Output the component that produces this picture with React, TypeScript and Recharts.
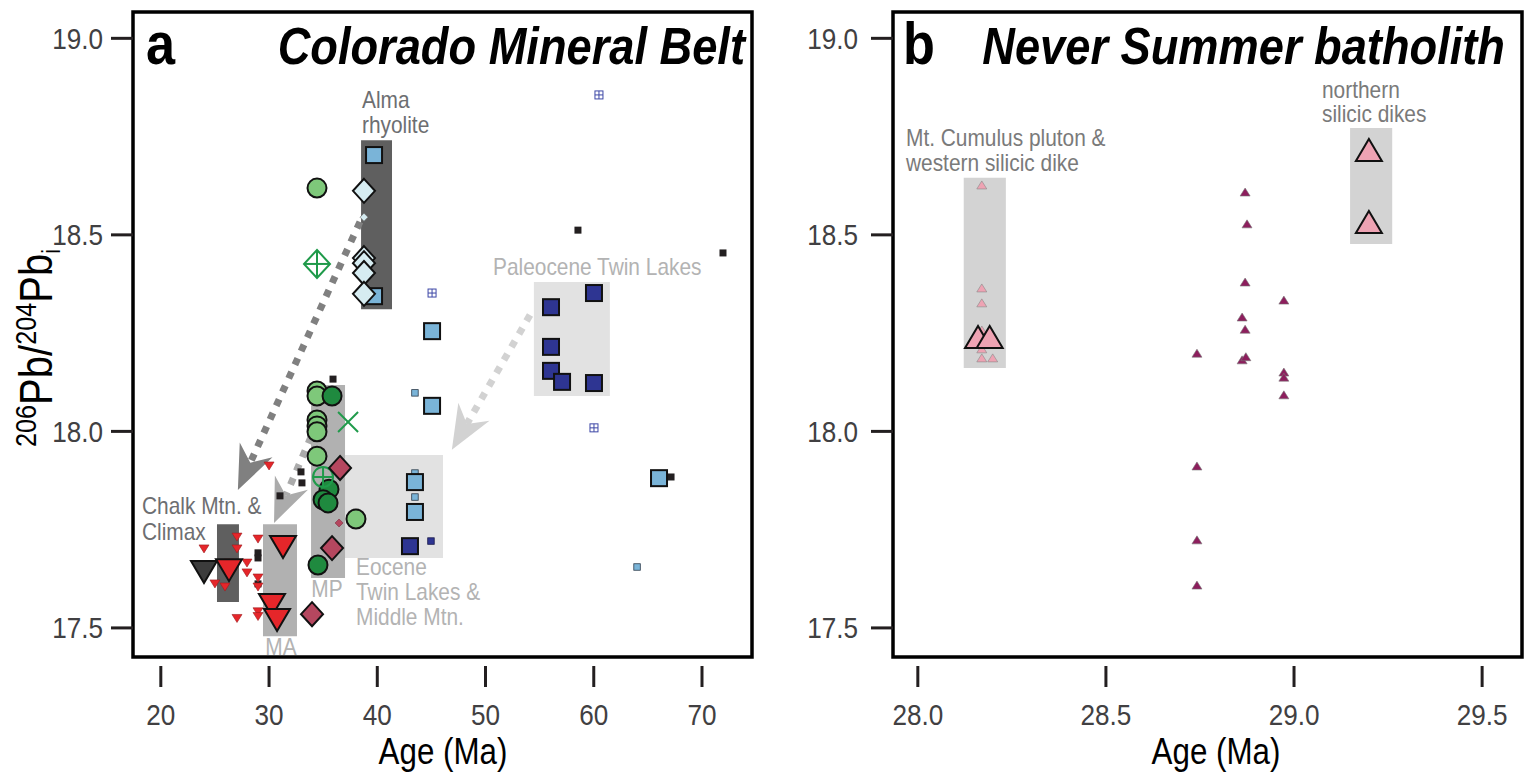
import React from 'react';
import { ScatterChart, Scatter, XAxis, YAxis, ReferenceArea, ReferenceLine } from 'recharts';

type Pt = { x: number; y: number };
const FONT = "'Liberation Sans', Arial, Helvetica, sans-serif";
const SX = 0.87; // condensed look of the original lettering

// ---------------- Panel a: Colorado Mineral Belt (age Ma vs 206Pb/204Pb_i)
const ageTicksA = [20, 30, 40, 50, 60, 70];
const pbTicks = [17.5, 18.0, 18.5, 19.0];
const AX_DOMAIN: [number, number] = [17.43, 74.62];
const PB_DOMAIN: [number, number] = [17.426, 19.067];

const climaxDarkTri: Pt[] = [{ x: 23.99, y: 17.642 }];
const redTriLarge: Pt[] = [
  { x: 26.3, y: 17.647 }, { x: 31.29, y: 17.706 }, { x: 30.27, y: 17.558 }, { x: 30.74, y: 17.52 },
];
const redTriSmall: Pt[] = [
  { x: 23.99, y: 17.701 }, { x: 27.04, y: 17.731 }, { x: 27.04, y: 17.701 }, { x: 28.98, y: 17.726 },
  { x: 26.3, y: 17.665 }, { x: 27.96, y: 17.665 }, { x: 27.96, y: 17.64 }, { x: 28.98, y: 17.627 },
  { x: 25.0, y: 17.612 }, { x: 25.93, y: 17.604 }, { x: 28.98, y: 17.604 }, { x: 28.98, y: 17.541 },
  { x: 28.98, y: 17.529 }, { x: 27.04, y: 17.524 }, { x: 30.0, y: 17.912 },
];
const blackSmallSq: Pt[] = [
  { x: 32.95, y: 17.897 }, { x: 33.04, y: 17.869 }, { x: 31.01, y: 17.836 }, { x: 28.98, y: 17.691 },
  { x: 28.98, y: 17.678 }, { x: 28.98, y: 17.612 }, { x: 35.91, y: 18.133 }, { x: 58.54, y: 18.512 },
  { x: 71.94, y: 18.454 }, { x: 67.14, y: 17.884 },
];
const lightBlueSq: Pt[] = [
  { x: 39.7, y: 18.703 }, { x: 39.7, y: 18.344 }, { x: 45.06, y: 18.255 }, { x: 45.06, y: 18.065 },
  { x: 43.48, y: 17.871 }, { x: 43.48, y: 17.795 }, { x: 66.03, y: 17.881 },
];
const lightBlueSmall: Pt[] = [
  { x: 43.48, y: 18.098 }, { x: 43.48, y: 17.894 }, { x: 43.48, y: 17.833 }, { x: 64.0, y: 17.655 },
];
const darkBlueSq: Pt[] = [
  { x: 56.05, y: 18.316 }, { x: 60.02, y: 18.352 }, { x: 56.05, y: 18.215 }, { x: 56.05, y: 18.154 },
  { x: 57.07, y: 18.126 }, { x: 60.02, y: 18.123 }, { x: 43.02, y: 17.708 },
];
const darkBlueSmall: Pt[] = [{ x: 44.96, y: 17.721 }];
const crossedSq: Pt[] = [{ x: 60.48, y: 18.856 }, { x: 45.06, y: 18.352 }, { x: 60.02, y: 18.009 }];
const almaDiamonds: Pt[] = [
  { x: 38.77, y: 18.612 }, { x: 38.77, y: 18.441 }, { x: 38.77, y: 18.428 }, { x: 38.77, y: 18.403 },
  { x: 38.77, y: 18.35 },
];
const almaDiamondSmall: Pt[] = [{ x: 38.77, y: 18.545 }];
const lightGreenCircles: Pt[] = [
  { x: 34.43, y: 18.619 }, { x: 34.43, y: 18.103 }, { x: 34.43, y: 18.09 }, { x: 34.43, y: 18.029 },
  { x: 34.43, y: 18.014 }, { x: 34.43, y: 17.999 }, { x: 34.43, y: 17.937 }, { x: 38.03, y: 17.777 },
];
const darkGreenCircles: Pt[] = [
  { x: 35.82, y: 18.09 }, { x: 35.54, y: 17.853 }, { x: 34.99, y: 17.826 }, { x: 35.45, y: 17.818 },
  { x: 34.52, y: 17.66 },
];
const greenCrossCircle: Pt[] = [{ x: 34.99, y: 17.884 }];
const greenCrossDiamond: Pt[] = [{ x: 34.43, y: 18.426 }];
const greenX: Pt[] = [{ x: 37.3, y: 18.024 }];
const maroonDiamonds: Pt[] = [{ x: 36.56, y: 17.907 }, { x: 35.82, y: 17.703 }, { x: 33.97, y: 17.535 }];
const maroonSmall: Pt[] = [{ x: 36.47, y: 17.767 }];

// grouping boxes (age range, ratio range)
const groupsA = [
  { id: 'eocene', x1: 35.82, x2: 46.07, y1: 17.678, y2: 17.94 },
  { id: 'paleo', x1: 54.47, x2: 61.49, y1: 18.09, y2: 18.38 },
  { id: 'alma', x1: 38.5, x2: 41.36, y1: 18.311, y2: 18.741 },
  { id: 'chalk', x1: 25.19, x2: 27.22, y1: 17.566, y2: 17.764 },
  { id: 'ma', x1: 29.44, x2: 32.58, y1: 17.479, y2: 17.764 },
  { id: 'mp', x1: 33.88, x2: 37.02, y1: 17.627, y2: 18.118 },
];
const arrowsA = [
  { id: 'alma', x1: 38.4, y1: 18.533, x2: 27.12, y2: 17.851 },
  { id: 'mp', x1: 33.88, y1: 17.986, x2: 30.46, y2: 17.767 },
  { id: 'paleo', x1: 54.11, y1: 18.296, x2: 46.89, y2: 17.953 },
];

// ---------------- Panel b: Never Summer batholith
const ageTicksB = [28.0, 28.5, 29.0, 29.5];
const BX_DOMAIN: [number, number] = [27.934, 29.606];
const cumulusSmall: Pt[] = [
  { x: 28.17, y: 18.627 }, { x: 28.17, y: 18.365 }, { x: 28.17, y: 18.327 }, { x: 28.17, y: 18.258 },
  { x: 28.17, y: 18.21 }, { x: 28.17, y: 18.187 }, { x: 28.199, y: 18.187 },
];
const cumulusLarge: Pt[] = [{ x: 28.16, y: 18.24 }, { x: 28.191, y: 18.24 }];
const northernDikes: Pt[] = [{ x: 29.199, y: 18.716 }, { x: 29.199, y: 18.533 }];
const batholithSmall: Pt[] = [
  { x: 28.87, y: 18.609 }, { x: 28.875, y: 18.528 }, { x: 28.87, y: 18.38 }, { x: 28.973, y: 18.334 },
  { x: 28.862, y: 18.291 }, { x: 28.87, y: 18.26 }, { x: 28.742, y: 18.199 }, { x: 28.862, y: 18.182 },
  { x: 28.872, y: 18.19 }, { x: 28.973, y: 18.151 }, { x: 28.973, y: 18.138 }, { x: 28.973, y: 18.093 },
  { x: 28.742, y: 17.912 }, { x: 28.742, y: 17.724 }, { x: 28.742, y: 17.609 },
];
const groupsB = [
  { id: 'cumulus', x1: 28.122, x2: 28.234, y1: 18.161, y2: 18.645 },
  { id: 'northern', x1: 29.149, x2: 29.261, y1: 18.477, y2: 18.772 },
];

// ---------------- styles
type Kind = 'triDown' | 'triUp' | 'square' | 'circle' | 'diamond' | 'crossSquare' | 'crossCircle' | 'crossDiamond' | 'xMark';
interface Sty { kind: Kind; w: number; h?: number; fill: string; stroke: string; sw: number }

function draw(st: Sty, cx: number, cy: number) {
  const w = st.w, h = st.h ?? st.w, hw = w / 2, hh = h / 2;
  const c = { fill: st.fill, stroke: st.stroke, strokeWidth: st.sw, strokeLinejoin: 'miter' as const };
  switch (st.kind) {
    case 'triDown':
      return <path d={`M${cx - hw},${cy - hh}L${cx + hw},${cy - hh}L${cx},${cy + hh}Z`} {...c} />;
    case 'triUp':
      return <path d={`M${cx - hw},${cy + hh}L${cx + hw},${cy + hh}L${cx},${cy - hh}Z`} {...c} />;
    case 'square':
      return <rect x={cx - hw} y={cy - hh} width={w} height={h} {...c} />;
    case 'circle':
      return <circle cx={cx} cy={cy} r={hw} {...c} />;
    case 'diamond':
      return <path d={`M${cx},${cy - hh}L${cx + hw},${cy}L${cx},${cy + hh}L${cx - hw},${cy}Z`} {...c} />;
    case 'crossSquare':
      return (
        <g>
          <rect x={cx - hw} y={cy - hh} width={w} height={h} {...c} />
          <line x1={cx - hw} x2={cx + hw} y1={cy} y2={cy} stroke={st.stroke} strokeWidth={st.sw} />
          <line x1={cx} x2={cx} y1={cy - hh} y2={cy + hh} stroke={st.stroke} strokeWidth={st.sw} />
        </g>
      );
    case 'crossCircle':
      return (
        <g>
          <circle cx={cx} cy={cy} r={hw} {...c} />
          <line x1={cx - hw} x2={cx + hw} y1={cy} y2={cy} stroke={st.stroke} strokeWidth={st.sw} />
          <line x1={cx} x2={cx} y1={cy - hw} y2={cy + hw} stroke={st.stroke} strokeWidth={st.sw} />
        </g>
      );
    case 'crossDiamond':
      return (
        <g>
          <path d={`M${cx},${cy - hh}L${cx + hw},${cy}L${cx},${cy + hh}L${cx - hw},${cy}Z`} {...c} />
          <line x1={cx - hw} x2={cx + hw} y1={cy} y2={cy} stroke={st.stroke} strokeWidth={st.sw} />
          <line x1={cx} x2={cx} y1={cy - hh} y2={cy + hh} stroke={st.stroke} strokeWidth={st.sw} />
        </g>
      );
    case 'xMark':
      return (
        <g>
          <line x1={cx - hw} x2={cx + hw} y1={cy - hh} y2={cy + hh} stroke={st.stroke} strokeWidth={st.sw} />
          <line x1={cx - hw} x2={cx + hw} y1={cy + hh} y2={cy - hh} stroke={st.stroke} strokeWidth={st.sw} />
        </g>
      );
  }
  return <g />;
}
const shapeOf = (st: Sty) => (props: any) => {
  const { cx, cy } = props;
  if (cx == null || cy == null || !Number.isFinite(cx) || !Number.isFinite(cy)) return <g />;
  return draw(st, cx, cy);
};

const seriesA: { name: string; data: Pt[]; st: Sty }[] = [
  { name: 'blackSmall', data: blackSmallSq, st: { kind: 'square', w: 7, fill: '#231f20', stroke: 'none', sw: 0 } },
  { name: 'redSmall', data: redTriSmall, st: { kind: 'triDown', w: 10, h: 8, fill: '#e5262a', stroke: '#9e1b1e', sw: 0.6 } },
  { name: 'lbSmall', data: lightBlueSmall, st: { kind: 'square', w: 6.5, fill: '#7ab4d8', stroke: '#2b3a4a', sw: 0.8 } },
  { name: 'dbSmall', data: darkBlueSmall, st: { kind: 'square', w: 6.5, fill: '#2e3592', stroke: '#1a1a4a', sw: 0.8 } },
  { name: 'crossSq', data: crossedSq, st: { kind: 'crossSquare', w: 8, fill: '#ffffff', stroke: '#3d47a6', sw: 1 } },
  { name: 'almaSmall', data: almaDiamondSmall, st: { kind: 'diamond', w: 8, h: 8, fill: '#d6ecf1', stroke: '#666', sw: 0.6 } },
  { name: 'maroonSmall', data: maroonSmall, st: { kind: 'diamond', w: 8, h: 8, fill: '#b5475f', stroke: '#7a2a3a', sw: 0.6 } },
  { name: 'lb', data: lightBlueSq, st: { kind: 'square', w: 16, fill: '#7ab4d8', stroke: '#111', sw: 2 } },
  { name: 'db', data: darkBlueSq, st: { kind: 'square', w: 16, fill: '#2e3592', stroke: '#111', sw: 2 } },
  { name: 'alma', data: almaDiamonds, st: { kind: 'diamond', w: 22, h: 24, fill: '#d6ecf1', stroke: '#111', sw: 2 } },
  { name: 'lgc', data: lightGreenCircles, st: { kind: 'circle', w: 19, fill: '#7ec87a', stroke: '#111', sw: 2 } },
  { name: 'dgc', data: darkGreenCircles, st: { kind: 'circle', w: 19, fill: '#1f8a3f', stroke: '#111', sw: 2 } },
  { name: 'gcc', data: greenCrossCircle, st: { kind: 'crossCircle', w: 20, fill: 'none', stroke: '#1f9a4a', sw: 2 } },
  { name: 'gcd', data: greenCrossDiamond, st: { kind: 'crossDiamond', w: 26, h: 28, fill: 'none', stroke: '#1f9a4a', sw: 2 } },
  { name: 'gx', data: greenX, st: { kind: 'xMark', w: 20, h: 20, fill: 'none', stroke: '#1f9a4a', sw: 2 } },
  { name: 'maroon', data: maroonDiamonds, st: { kind: 'diamond', w: 22, h: 24, fill: '#b5475f', stroke: '#111', sw: 2 } },
  { name: 'climax', data: climaxDarkTri, st: { kind: 'triDown', w: 26, h: 22, fill: '#3c3c3c', stroke: '#111', sw: 2 } },
  { name: 'redLarge', data: redTriLarge, st: { kind: 'triDown', w: 26, h: 22, fill: '#e5262a', stroke: '#111', sw: 2 } },
];
const seriesB: { name: string; data: Pt[]; st: Sty }[] = [
  { name: 'batholith', data: batholithSmall, st: { kind: 'triUp', w: 10, h: 8, fill: '#8d1e5d', stroke: '#777', sw: 0.6 } },
  { name: 'cumSmall', data: cumulusSmall, st: { kind: 'triUp', w: 10, h: 8, fill: '#eea3b3', stroke: '#888', sw: 0.6 } },
  { name: 'cumLarge', data: cumulusLarge, st: { kind: 'triUp', w: 26, h: 22, fill: '#eea3b3', stroke: '#111', sw: 2 } },
  { name: 'northern', data: northernDikes, st: { kind: 'triUp', w: 26, h: 22, fill: '#eea3b3', stroke: '#111', sw: 2 } },
];

const groupFill: Record<string, string> = {
  eocene: '#e2e2e2', paleo: '#e2e2e2', alma: '#5f5f5f', chalk: '#5f5f5f', ma: '#b1b1b1', mp: '#b1b1b1',
  cumulus: '#d3d3d3', northern: '#d3d3d3',
};
const arrowColor: Record<string, string> = { alma: '#808080', mp: '#ababab', paleo: '#d2d2d2' };

const arrowShape = (color: string) => (p: any) => {
  const x1 = +p.x1, y1 = +p.y1, x2 = +p.x2, y2 = +p.y2;
  if (![x1, y1, x2, y2].every(Number.isFinite)) return <g />;
  const dx = x2 - x1, dy = y2 - y1, L = Math.hypot(dx, dy);
  const ux = dx / L, uy = dy / L, nx = -uy, ny = ux;
  const HL = 44, HW = 18, NT = 14;
  const bx = x2 - ux * HL, by = y2 - uy * HL;
  const mx = x2 - ux * (HL - NT), my = y2 - uy * (HL - NT);
  return (
    <g>
      <line x1={x1} y1={y1} x2={mx} y2={my} stroke={color} strokeWidth={7} strokeDasharray="7 8" />
      <path d={`M${x2},${y2}L${bx + nx * HW},${by + ny * HW}L${mx},${my}L${bx - nx * HW},${by - ny * HW}Z`} fill={color} />
    </g>
  );
};

// condensed text helper
function CT(p: {
  x: number; y: number; size: number; fill?: string; anchor?: 'start' | 'middle' | 'end';
  weight?: string; italic?: boolean; children: React.ReactNode;
}) {
  return (
    <text transform={`translate(${p.x},${p.y}) scale(${SX},1)`} fontSize={p.size} fill={p.fill ?? '#000'}
      textAnchor={p.anchor ?? 'start'} fontWeight={p.weight ?? 'normal'} fontStyle={p.italic ? 'italic' : 'normal'}
      fontFamily={FONT}>
      {p.children}
    </text>
  );
}

const xTick = (fmt: (v: number) => string) => (props: any) => {
  const { x, y, payload } = props;
  return (
    <g>
      <line x1={x} x2={x} y1={y + 9} y2={y + 30} stroke="#231f20" strokeWidth={3} />
      <CT x={x} y={y + 68} size={30} anchor="middle" fill="#414042">{fmt(payload.value)}</CT>
    </g>
  );
};
const yTick = (gap: number) => (props: any) => {
  const { x, y, payload } = props;
  return (
    <g>
      <line x1={x - 22} x2={x} y1={y} y2={y} stroke="#231f20" strokeWidth={3} />
      <CT x={x - gap} y={y + 10.5} size={30} anchor="end" fill="#414042">{Number(payload.value).toFixed(1)}</CT>
    </g>
  );
};

function Panel(props: {
  width: number; yw: number; right: number; xDomain: [number, number]; xTicks: number[];
  fmt: (v: number) => string; groups: typeof groupsA; arrows: typeof arrowsA; series: typeof seriesA; gap: number;
}) {
  const { width, yw, right, xDomain, xTicks, fmt, groups, arrows, series, gap } = props;
  return (
    <ScatterChart width={width} height={772} margin={{ top: 12, right, bottom: 0, left: 0 }}>
      <XAxis type="number" dataKey="x" domain={xDomain} ticks={xTicks} allowDataOverflow height={115}
        axisLine={false} tickLine={false} tickSize={0} tickMargin={0} interval={0} tick={xTick(fmt)} />
      <YAxis type="number" dataKey="y" domain={PB_DOMAIN} ticks={pbTicks} allowDataOverflow width={yw}
        axisLine={false} tickLine={false} tickSize={0} tickMargin={0} interval={0} tick={yTick(gap)} />
      {groups.map((g) => (
        <ReferenceArea key={g.id} x1={g.x1} x2={g.x2} y1={g.y1} y2={g.y2} fill={groupFill[g.id]} fillOpacity={1}
          stroke="none" ifOverflow="visible" />
      ))}
      {arrows.map((a) => (
        <ReferenceLine key={a.id} segment={[{ x: a.x1, y: a.y1 }, { x: a.x2, y: a.y2 }]} ifOverflow="visible"
          shape={arrowShape(arrowColor[a.id])} />
      ))}
      {series.map((s) => (
        <Scatter key={s.name} data={s.data} isAnimationActive={false} shape={shapeOf(s.st)} />
      ))}
      <ReferenceArea x1={xDomain[0]} x2={xDomain[1]} y1={PB_DOMAIN[0]} y2={PB_DOMAIN[1]} fill="none"
        stroke="#000" strokeWidth={3.5} ifOverflow="visible" />
    </ScatterChart>
  );
}

const gray1 = '#6d6e71';
const gray2 = '#b3b3b3';
const gray3 = '#7a7a7a';

export default function App() {
  return (
    <div style={{ position: 'absolute', left: 0, top: 0, width: 1530, height: 772, background: '#fff' }}>
      <div style={{ position: 'absolute', left: 0, top: 0 }}>
        <Panel width={780} yw={133} right={28} xDomain={AX_DOMAIN} xTicks={ageTicksA} fmt={(v) => String(v)}
          groups={groupsA} arrows={arrowsA} series={seriesA} gap={30} />
      </div>
      <div style={{ position: 'absolute', left: 780, top: 0 }}>
        <Panel width={750} yw={113} right={8} xDomain={BX_DOMAIN} xTicks={ageTicksB} fmt={(v) => v.toFixed(1)}
          groups={groupsB} arrows={[]} series={seriesB} gap={35} />
      </div>
      <svg width={1530} height={772} style={{ position: 'absolute', left: 0, top: 0, pointerEvents: 'none' }}
        fontFamily={FONT}>
        {/* panel titles */}
        <CT x={146} y={64} size={60} weight="bold">a</CT>
        <CT x={745} y={64} size={52} weight="bold" italic anchor="end">Colorado Mineral Belt</CT>
        <CT x={903} y={64} size={60} weight="bold">b</CT>
        <CT x={1505} y={64} size={52} weight="bold" italic anchor="end">Never Summer batholith</CT>
        {/* axis titles */}
        <CT x={443} y={764} size={36} anchor="middle">Age (Ma)</CT>
        <CT x={1216} y={764} size={36} anchor="middle">Age (Ma)</CT>
        <text transform={`translate(52,348) rotate(-90) scale(${SX},1)`} textAnchor="middle" fill="#000" fontFamily={FONT}>
          <tspan fontSize={29} dy={-16}>206</tspan>
          <tspan fontSize={46} dy={16}>Pb/</tspan>
          <tspan fontSize={29} dy={-16}>204</tspan>
          <tspan fontSize={46} dy={16}>Pb</tspan>
          <tspan fontSize={25} dy={8}>i</tspan>
        </text>
        {/* panel a annotations */}
        <CT x={362} y={108} size={24} fill={gray1}>Alma</CT>
        <CT x={362} y={133} size={24} fill={gray1}>rhyolite</CT>
        <CT x={142} y={514} size={24} fill={gray1}>Chalk Mtn. &amp;</CT>
        <CT x={142} y={540} size={24} fill={gray1}>Climax</CT>
        <CT x={281} y={655} size={24} fill={gray2} anchor="middle">MA</CT>
        <CT x={327} y={597} size={24} fill={gray2} anchor="middle">MP</CT>
        <CT x={356} y={575} size={24} fill={gray2}>Eocene</CT>
        <CT x={356} y={600} size={24} fill={gray2}>Twin Lakes &amp;</CT>
        <CT x={356} y={625} size={24} fill={gray2}>Middle Mtn.</CT>
        <CT x={493} y={275} size={24} fill={gray2}>Paleocene Twin Lakes</CT>
        {/* panel b annotations */}
        <CT x={906} y={146} size={24} fill={gray3}>Mt. Cumulus pluton &amp;</CT>
        <CT x={906} y={171} size={24} fill={gray3}>western silicic dike</CT>
        <CT x={1322} y={98} size={24} fill={gray3}>northern</CT>
        <CT x={1322} y={122} size={24} fill={gray3}>silicic dikes</CT>
      </svg>
    </div>
  );
}
